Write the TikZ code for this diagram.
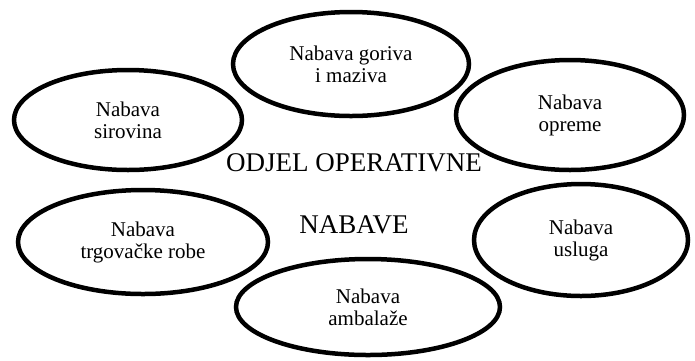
\documentclass[tikz,border=0pt]{standalone}
\usepackage{fontspec}
\setmainfont{Liberation Serif}
\usetikzlibrary{shapes.geometric}

\begin{document}
\begin{tikzpicture}[
  x=1pt, y=-1pt,
  oval/.style={draw, ellipse, line width=4.5pt, inner sep=0pt, align=center,
    font=\fontsize{21}{22}\selectfont},
  title/.style={align=center, font=\fontsize{27}{62}\selectfont}
]
\useasboundingbox (0,0) rectangle (695,360);
\node[oval, minimum width=236, minimum height=104] (gorivo) at (351,64) {Nabava goriva\\i maziva};
\node[oval, minimum width=228, minimum height=100] (sirovina) at (128,120) {Nabava\\sirovina};
\node[oval, minimum width=228, minimum height=110] (oprema) at (570,115) {Nabava\\opreme};
\node[oval, minimum width=250, minimum height=104] (roba) at (143,242) {Nabava\\trgovačke robe};
\node[oval, minimum width=214, minimum height=112] (usluge) at (581,240) {Nabava\\usluga};
\node[oval, minimum width=264, minimum height=96] (ambalaza) at (368,307) {Nabava\\ambalaže};
\node[title] (odjel) at (354,194) {ODJEL OPERATIVNE\\NABAVE};
\end{tikzpicture}
\end{document}
